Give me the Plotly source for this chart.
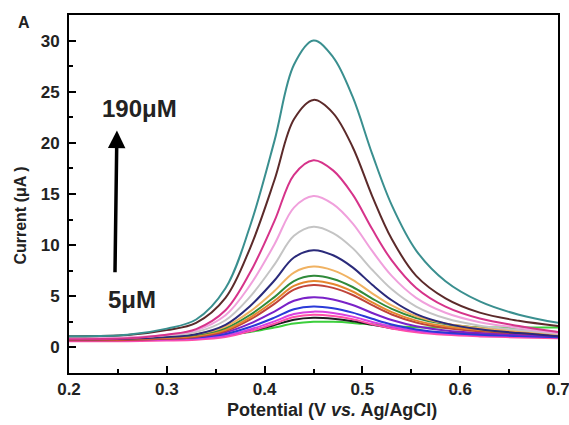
import plotly.graph_objects as go

# Potential sample points (V vs. Ag/AgCl)
potential = [0.20, 0.26, 0.30, 0.33, 0.36, 0.385, 0.41, 0.43, 0.45, 0.47, 0.49, 0.51, 0.53, 0.555, 0.585, 0.62, 0.66, 0.70]

# Current (uA) for each concentration (highest -> lowest)
c_teal   = [1.10, 1.24, 1.84, 2.73, 5.78, 11.82, 20.17, 27.63, 30.00, 28.39, 24.51, 18.92, 13.91, 9.47, 6.47, 4.50, 3.20, 2.40]
c_brown  = [1.10, 1.21, 1.69, 2.40, 4.84, 9.67, 16.34, 22.31, 24.20, 22.91, 19.60, 14.80, 10.60, 7.00, 4.80, 3.40, 2.60, 2.10]
c_mag    = [0.80, 0.89, 1.24, 1.79, 3.63, 7.29, 12.34, 16.88, 18.30, 17.31, 14.96, 11.57, 8.51, 5.82, 3.99, 2.83, 2.10, 1.50]
c_lpink  = [0.90, 0.97, 1.25, 1.68, 3.15, 6.06, 10.07, 13.67, 14.80, 14.01, 12.13, 9.43, 6.99, 4.85, 3.39, 2.47, 1.90, 1.40]
c_gray   = [0.90, 0.95, 1.18, 1.51, 2.66, 4.94, 8.09, 10.91, 11.80, 11.18, 9.71, 7.59, 5.68, 4.00, 2.85, 2.13, 1.70, 1.30]
c_navy   = [0.80, 0.84, 1.02, 1.29, 2.21, 4.03, 6.54, 8.79, 9.50, 9.01, 7.83, 6.13, 4.61, 3.26, 2.35, 1.77, 1.40, 1.10]
c_lorng  = [0.90, 0.93, 1.08, 1.30, 2.04, 3.50, 5.51, 7.32, 7.90, 7.53, 6.61, 5.29, 4.10, 3.05, 2.35, 1.91, 1.64, 1.40]
c_dgreen = [0.90, 0.93, 1.06, 1.25, 1.90, 3.17, 4.92, 6.49, 7.00, 6.69, 5.91, 4.78, 3.77, 2.88, 2.29, 1.93, 1.70, 1.50]
c_orange = [0.80, 0.83, 0.95, 1.13, 1.73, 2.92, 4.56, 6.02, 6.50, 6.20, 5.47, 4.41, 3.45, 2.62, 2.06, 1.71, 1.50, 1.30]
c_brick  = [0.70, 0.73, 0.84, 1.02, 1.59, 2.71, 4.26, 5.65, 6.10, 5.82, 5.13, 4.13, 3.22, 2.44, 1.91, 1.59, 1.38, 1.20]
c_purple = [0.80, 0.82, 0.91, 1.04, 1.47, 2.32, 3.51, 4.56, 4.90, 4.69, 4.15, 3.37, 2.68, 2.07, 1.66, 1.40, 1.24, 1.10]
c_blue   = [0.80, 0.82, 0.88, 0.98, 1.32, 1.99, 2.91, 3.74, 4.00, 3.82, 3.40, 2.80, 2.24, 1.76, 1.44, 1.24, 1.12, 1.00]
c_violet = [0.70, 0.71, 0.78, 0.87, 1.16, 1.75, 2.55, 3.26, 3.50, 3.36, 3.01, 2.49, 2.03, 1.63, 1.36, 1.20, 1.09, 1.00]
c_pink   = [0.60, 0.61, 0.67, 0.76, 1.03, 1.57, 2.32, 2.98, 3.20, 3.07, 2.75, 2.27, 1.85, 1.48, 1.23, 1.08, 0.98, 0.90]
c_black  = [0.80, 0.81, 0.86, 0.93, 1.15, 1.59, 2.18, 2.71, 2.90, 2.81, 2.57, 2.21, 1.88, 1.61, 1.43, 1.33, 1.26, 1.20]
c_green  = [0.90, 0.91, 0.95, 1.02, 1.20, 1.51, 1.95, 2.33, 2.50, 2.50, 2.40, 2.23, 2.09, 1.98, 1.94, 1.95, 1.96, 1.95]

series = [c_green, c_black, c_pink, c_violet, c_blue, c_purple, c_brick, c_orange,
          c_dgreen, c_lorng, c_navy, c_gray, c_lpink, c_mag, c_brown, c_teal]
colors = ["#3ccf3c", "#1e1e1e", "#ff4fa8", "#d840e0", "#2a3ad8", "#7a22c8", "#c0443a", "#e5862e",
          "#2f8a3a", "#f0b262", "#2a2a7a", "#c4c4c4", "#f0a0dc", "#d6338a", "#5c2a2a", "#3a8f8f"]

x_ticks = [0.2, 0.3, 0.4, 0.5, 0.6, 0.7]
y_ticks = [0, 5, 10, 15, 20, 25, 30]

FONT = "Arial, Liberation Sans, sans-serif"

fig = go.Figure()
for ys, col in zip(series, colors):
    fig.add_trace(go.Scatter(x=potential, y=ys, mode="lines",
                             line=dict(color=col, width=2, shape="spline", smoothing=1.0),
                             showlegend=False, hoverinfo="skip"))

axis_common = dict(showline=True, linecolor="black", linewidth=2, mirror=True,
                   ticks="inside", ticklen=7, tickwidth=2, tickcolor="black",
                   showgrid=False, zeroline=False, automargin=False,
                   tickfont=dict(family=FONT, size=17, color="#222", weight="bold"))

fig.update_xaxes(range=[0.2, 0.7], tickvals=x_ticks, ticktext=[f"{v:.1f}" for v in x_ticks],
                 ticklabeloverflow="allow",
                 minor=dict(dtick=0.05, tick0=0.2, ticks="inside", ticklen=4, tickwidth=2, tickcolor="black"),
                 **axis_common)
fig.update_yaxes(range=[-2.5, 32.5], tickvals=y_ticks, ticklabelstandoff=4,
                 minor=dict(dtick=2.5, tick0=0, ticks="inside", ticklen=4, tickwidth=2, tickcolor="black"),
                 **axis_common)

fig.add_annotation(x=0.249, y=21.2, ax=0.247, ay=7.2, xref="x", yref="y", axref="x", ayref="y",
                   text="", showarrow=True, arrowhead=2, arrowsize=1.0, arrowwidth=3.5, arrowcolor="black")
fig.add_annotation(x=0.2716, y=23.4, xref="x", yref="y", text="<b>190μM</b>", showarrow=False,
                   font=dict(family=FONT, size=24, color="#222"))
fig.add_annotation(x=0.2644, y=4.7, xref="x", yref="y", text="<b>5μM</b>", showarrow=False,
                   font=dict(family=FONT, size=24, color="#222"))
fig.add_annotation(x=-0.092, y=0.978, xref="paper", yref="paper", xanchor="center", yanchor="middle",
                   text="<b>A</b>", showarrow=False, font=dict(family=FONT, size=16, color="#222"))
fig.add_annotation(x=-0.1, y=0.44, xref="paper", yref="paper", xanchor="center", yanchor="middle",
                   text="<b>Current (μA )</b>", textangle=-90, showarrow=False,
                   font=dict(family=FONT, size=16, color="#222"))
fig.add_annotation(x=0.538, y=-0.103, xref="paper", yref="paper", xanchor="center", yanchor="middle",
                   text="<b>Potential (V <i>vs.</i> Ag/AgCl)</b>", showarrow=False,
                   font=dict(family=FONT, size=18, color="#222"))

fig.update_layout(width=569, height=425, margin=dict(l=69, r=11, t=15, b=52),
                  paper_bgcolor="white", plot_bgcolor="white")

fig.write_html("out.html", config={"displayModeBar": False},
               post_script=("document.body.style.margin='0';document.body.style.padding='0';"
                            "document.body.style.overflow='hidden';"
                            "document.documentElement.style.overflow='hidden';"))
